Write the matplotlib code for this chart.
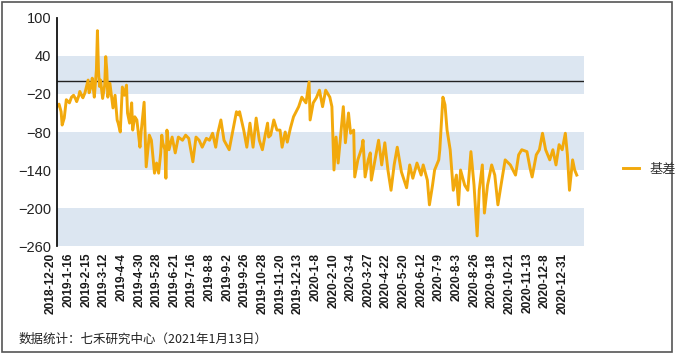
import numpy as np
import matplotlib.pyplot as plt
from matplotlib.patches import Rectangle

plt.rcParams['font.family'] = ['Liberation Sans', 'Noto Sans CJK SC', 'DejaVu Sans']

# trading-day number since 2018-12-20 and basis value
day = [0, 2, 4, 5, 7, 9, 12, 14, 16, 18, 19, 21, 22, 24, 25, 27, 30, 31, 33, 34,
       35, 36, 38, 39, 40, 41, 42, 44, 46, 47, 48, 49, 51, 54, 56, 58, 59, 61, 62, 63,
       65, 67, 68, 70, 72, 73, 75, 77, 80, 81, 84, 86, 89, 91, 94, 96, 98, 100, 101, 102,
       104, 105, 106, 108, 111, 114, 117, 121, 124, 127, 131, 134, 137, 140, 144, 147, 150, 153, 155, 158,
       161, 166, 169, 173, 175, 176, 180, 183, 186, 189, 192, 195, 198, 201, 203, 204, 206, 209, 212, 215,
       217, 220, 222, 225, 228, 233, 236, 240, 243, 244, 247, 250, 253, 256, 259, 263, 265, 267, 269, 271,
       273, 276, 278, 281, 283, 286, 287, 290, 294, 295, 297, 300, 302, 303, 306, 310, 313, 316, 319, 322,
       325, 328, 332, 337, 340, 343, 347, 351, 353, 357, 359, 362, 364, 368, 369, 372, 374, 376, 379, 382,
       385, 387, 389, 393, 396, 399, 402, 405, 407, 410, 412, 415, 419, 422, 425, 428, 432, 437, 442, 445,
       448, 453, 456, 458, 462, 465, 468, 471, 475, 478, 481, 484, 487, 490, 492, 494, 497, 499, 501]
basis = [-40, -36, -48, -69, -58, -29, -34, -25, -22, -28, -32, -23, -16, -23, -26, -18, 2, -18, -7, 5,
         -11, -25, 18, 80, 18, -8, 2, -27, -6, 39, 18, -25, -3, -42, -22, -61, -66, -80, -45, -9,
         -22, -6, -50, -66, -34, -77, -56, -61, -104, -82, -33, -135, -85, -93, -145, -129, -145, -113, -85, -97,
         -108, -153, -77, -108, -88, -113, -88, -93, -85, -90, -127, -88, -93, -104, -90, -93, -82, -104, -82, -61,
         -93, -108, -82, -48, -53, -48, -77, -104, -66, -104, -58, -93, -108, -82, -66, -88, -85, -61, -77, -77,
         -104, -80, -96, -74, -56, -40, -25, -34, -1, -61, -34, -26, -14, -40, -14, -25, -40, -140, -88, -129,
         -93, -40, -97, -50, -82, -77, -151, -124, -104, -93, -151, -124, -113, -156, -129, -93, -132, -97, -140, -172,
         -132, -104, -143, -168, -132, -153, -129, -148, -132, -156, -195, -164, -140, -124, -108, -25, -37, -77, -108, -172,
         -148, -195, -140, -164, -172, -111, -164, -244, -172, -132, -208, -164, -132, -148, -195, -164, -124, -132, -148, -116,
         -108, -111, -137, -151, -116, -108, -82, -108, -124, -108, -132, -100, -108, -82, -116, -172, -124, -140, -148]

tick_labels = ['2018-12-20', '2019-1-16', '2019-2-15', '2019-3-12', '2019-4-4', '2019-4-30',
               '2019-5-28', '2019-6-21', '2019-7-16', '2019-8-8', '2019-9-2', '2019-9-26',
               '2019-10-28', '2019-11-20', '2019-12-13', '2020-1-8', '2020-2-10', '2020-3-4',
               '2020-3-27', '2020-4-22', '2020-5-20', '2020-6-12', '2020-7-9', '2020-8-3',
               '2020-8-26', '2020-9-18', '2020-10-21', '2020-11-13', '2020-12-8', '2020-12-31']
tick_step = 17
yticks = [100, 40, -20, -80, -140, -200, -260]
bands = [(-20, 40), (-140, -80), (-260, -200)]

fig = plt.figure(figsize=(6.75, 3.57), dpi=100)
ax = fig.add_axes([0.0844, 0.3109, 0.7808, 0.6387])

for lo, hi in bands:
    ax.axhspan(lo, hi, color='#dce6f1', lw=0, zorder=0)
ax.axhline(0, color='#222222', lw=1.0, zorder=1)
ax.plot(day, basis, color='#f2a90c', lw=2.1, label='基差', zorder=2, solid_joinstyle='round')

ax.set_xlim(0, 508)
ax.set_ylim(-260, 100)
ax.set_yticks(yticks)
ax.set_xticks(np.arange(len(tick_labels)) * tick_step)
ax.set_xticklabels(tick_labels, rotation=90, ha='right', fontsize=8.6,
                   fontweight='bold', color='#1a1a1a')
ax.tick_params(axis='y', length=0, labelsize=10.5, labelcolor='#222222', pad=4)
ax.tick_params(axis='x', length=0, pad=5)
for s in ['top', 'right', 'bottom']:
    ax.spines[s].set_visible(False)
ax.spines['left'].set_linewidth(1.3)
ax.spines['left'].set_color('#111111')

fig.legend(loc='center left', bbox_to_anchor=(0.905, 0.524), frameon=False,
           handlelength=1.2, fontsize=9.5, labelcolor='#333333')

fig.text(0.028, 0.05, '数据统计：七禾研究中心（2021年1月13日）', fontsize=9,
         family=['Noto Sans CJK SC', 'DejaVu Sans'], color='#222222', va='center')

fig.patches.append(Rectangle((0.003, 0.014), 0.9926, 0.98, transform=fig.transFigure,
                             fill=False, ec='#555555', lw=1.2))

fig.savefig('out.png', dpi=100)
